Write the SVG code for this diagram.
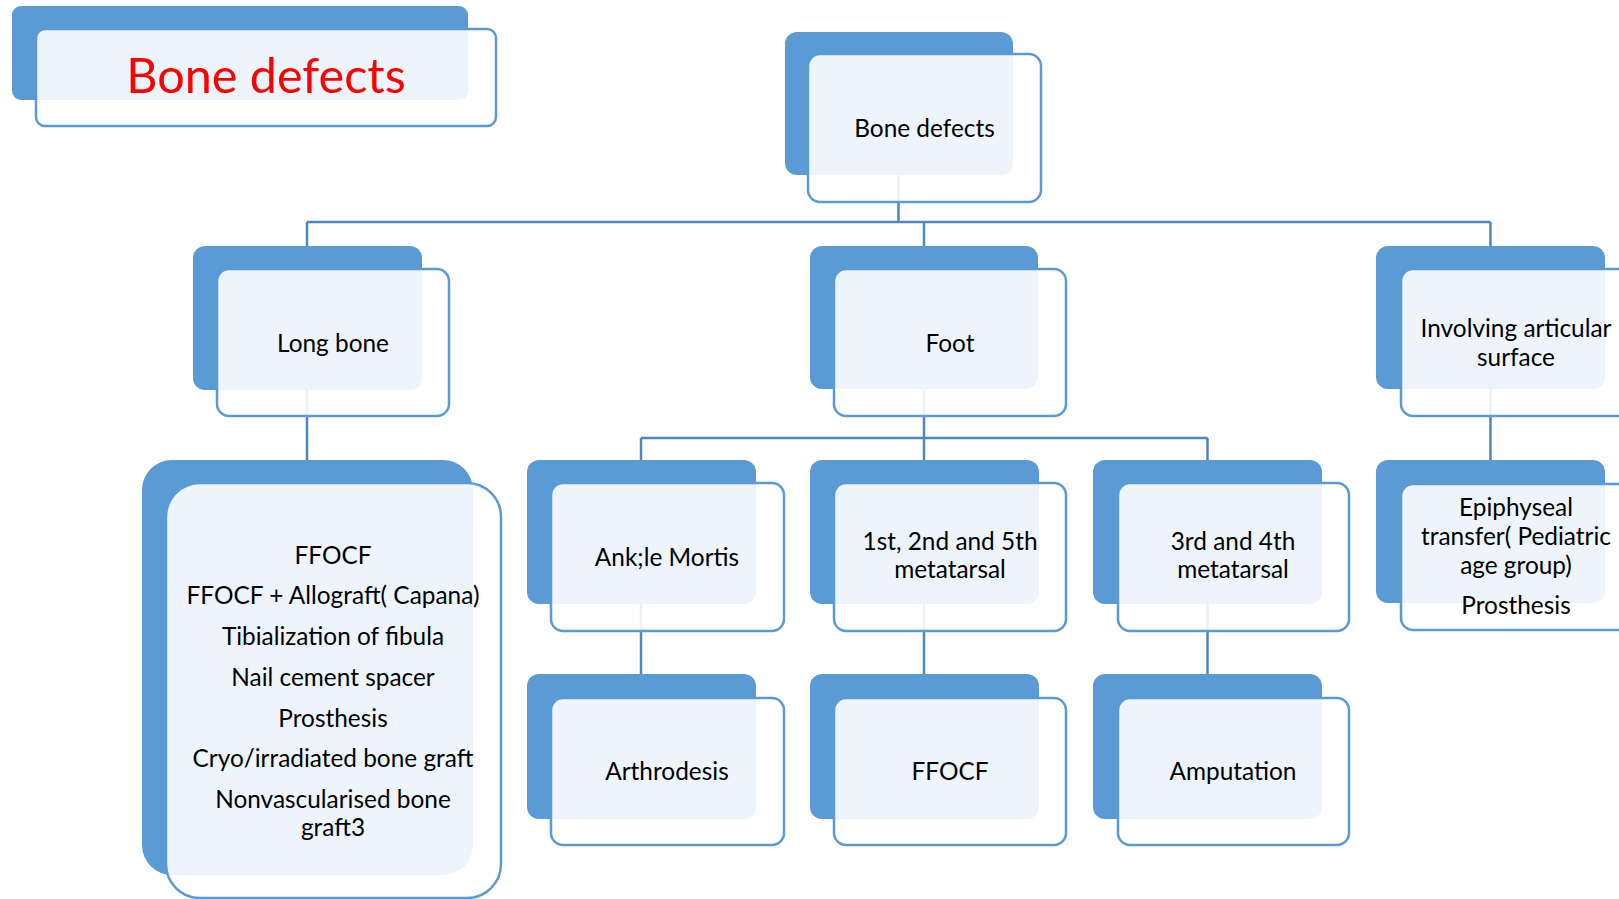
<svg xmlns="http://www.w3.org/2000/svg" width="1619" height="899" viewBox="0 0 1619 899">
<style>
.bk{fill:#5B9BD5;}
.fr{fill:#FFFFFF;fill-opacity:0.89;stroke:#5B9BD5;stroke-width:2.5;}
.t{font-family:Lato,"Liberation Sans",sans-serif;font-size:24.4px;fill:#000;text-anchor:middle;}
.ttl{font-family:Lato,"Liberation Sans",sans-serif;font-size:48.5px;fill:#FF0000;text-anchor:middle;}
.c{fill:none;stroke:#4F86C0;stroke-width:2.5;}
</style>
<rect width="1619" height="899" fill="#FFFFFF"/>
<g id="title">
<rect class="bk" x="12" y="6" width="456" height="94" rx="9"/>
<rect class="fr" x="36" y="29" width="460" height="97" rx="9"/>
<text class="ttl" x="266" y="93">Bone defects</text>
</g>
<g id="connectors">
<path class="c" d="M898.5 175V222M307 222H1490.5M307 222V246M924 222V246M1490.5 222V246"/>
<path class="c" d="M307 390V460M1490.5 389V460"/>
<path class="c" d="M924 389V438M641 438H1207.5M641 438V460M924 438V460M1207.5 438V460"/>
<path class="c" d="M641 604V674M924 604V674M1207.5 604V674"/>
</g>
<g id="root">
<rect class="bk" x="785" y="32" width="228" height="143" rx="12"/>
<rect class="fr" x="808" y="54" width="233" height="148" rx="12"/>
<text class="t" x="924.5" y="137">Bone defects</text>
</g>
<g id="longbone">
<rect class="bk" x="193" y="246" width="229" height="144" rx="12"/>
<rect class="fr" x="217" y="269" width="232" height="147" rx="12"/>
<text class="t" x="333" y="352">Long bone</text>
</g>
<g id="foot">
<rect class="bk" x="810" y="246" width="228" height="143" rx="12"/>
<rect class="fr" x="834" y="269" width="232" height="147" rx="12"/>
<text class="t" x="950" y="352">Foot</text>
</g>
<g id="articular">
<rect class="bk" x="1376" y="246" width="229" height="143" rx="12"/>
<rect class="fr" x="1401" y="269" width="232" height="147" rx="12"/>
<text class="t" x="1516" y="337">Involving articular</text>
<text class="t" x="1516" y="366">surface</text>
</g>
<g id="longbone-list">
<rect class="bk" x="142" y="460" width="331" height="415" rx="30"/>
<rect class="fr" x="166" y="483" width="335" height="415" rx="34"/>
<text class="t" x="333" y="564">FFOCF</text>
<text class="t" x="333" y="604">FFOCF + Allograft( Capana)</text>
<text class="t" x="333" y="645">Tibialization of fibula</text>
<text class="t" x="333" y="686">Nail cement spacer</text>
<text class="t" x="333" y="727">Prosthesis</text>
<text class="t" x="333" y="767">Cryo/irradiated bone graft</text>
<text class="t" x="333" y="808">Nonvascularised bone</text>
<text class="t" x="333" y="836">graft3</text>
</g>
<g id="ankle">
<rect class="bk" x="527" y="460" width="229" height="144" rx="12"/>
<rect class="fr" x="551" y="483" width="233" height="148" rx="12"/>
<text class="t" x="667" y="566">Ank;le Mortis</text>
</g>
<g id="meta125">
<rect class="bk" x="810" y="460" width="229" height="144" rx="12"/>
<rect class="fr" x="834" y="483" width="232" height="148" rx="12"/>
<text class="t" x="950" y="550">1st, 2nd and 5th</text>
<text class="t" x="950" y="578">metatarsal</text>
</g>
<g id="meta34">
<rect class="bk" x="1093" y="460" width="229" height="144" rx="12"/>
<rect class="fr" x="1118" y="483" width="231" height="148" rx="12"/>
<text class="t" x="1233" y="550">3rd and 4th</text>
<text class="t" x="1233" y="578">metatarsal</text>
</g>
<g id="epiphyseal">
<rect class="bk" x="1376" y="460" width="229" height="143" rx="12"/>
<rect class="fr" x="1401" y="484" width="232" height="146" rx="12"/>
<text class="t" x="1516" y="516">Epiphyseal</text>
<text class="t" x="1516" y="545">transfer( Pediatric</text>
<text class="t" x="1516" y="574">age group)</text>
<text class="t" x="1516" y="614">Prosthesis</text>
</g>
<g id="arthrodesis">
<rect class="bk" x="527" y="674" width="229" height="145" rx="12"/>
<rect class="fr" x="551" y="698" width="233" height="147" rx="12"/>
<text class="t" x="667" y="780">Arthrodesis</text>
</g>
<g id="ffocf">
<rect class="bk" x="810" y="674" width="229" height="145" rx="12"/>
<rect class="fr" x="834" y="698" width="232" height="147" rx="12"/>
<text class="t" x="950" y="780">FFOCF</text>
</g>
<g id="amputation">
<rect class="bk" x="1093" y="674" width="229" height="145" rx="12"/>
<rect class="fr" x="1118" y="698" width="231" height="147" rx="12"/>
<text class="t" x="1233" y="780">Amputation</text>
</g>
</svg>
